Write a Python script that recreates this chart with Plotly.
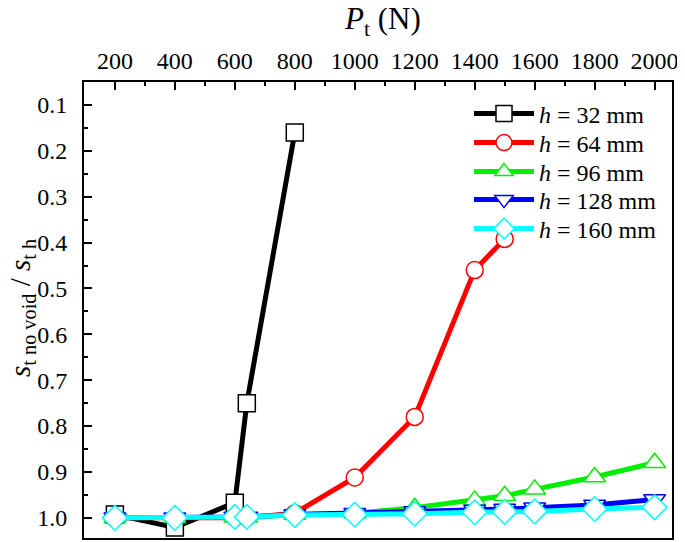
import plotly.graph_objects as go

x_all = [200, 400, 600, 640, 800, 1000, 1200, 1400, 1500, 1600, 1800, 2000]
h32 = [0.993, 1.021, 0.967, 0.75, 0.16]
h64 = [1.0, 1.0, 1.0, 1.0, 0.99, 0.912, 0.78, 0.46, 0.392]
h96 = [1.0, 1.0, 0.999, 0.999, 0.993, 0.99, 0.978, 0.962, 0.952, 0.938, 0.911, 0.88]
h128 = [1.0, 1.0, 0.998, 0.998, 0.993, 0.99, 0.986, 0.983, 0.981, 0.978, 0.972, 0.96]
h160 = [1.0, 1.0, 0.998, 0.998, 0.994, 0.993, 0.991, 0.988, 0.987, 0.986, 0.981, 0.977]

x_ticks = [200, 400, 600, 800, 1000, 1200, 1400, 1600, 1800, 2000]
y_ticks = [0.1, 0.2, 0.3, 0.4, 0.5, 0.6, 0.7, 0.8, 0.9, 1.0]
y_tick_text = ["0.1", "0.2", "0.3", "0.4", "0.5", "0.6", "0.7", "0.8", "0.9", "1.0"]

names = ["<i>h</i> = 32 mm", "<i>h</i> = 64 mm", "<i>h</i> = 96 mm",
         "<i>h</i> = 128 mm", "<i>h</i> = 160 mm"]
colors = ["#000000", "#ff0000", "#00ee00", "#0000ff", "#00ffff"]
symbols = ["square", "circle", "triangle-up", "triangle-down", "diamond"]
msizes = [17, 17, 19, 19, 19]
series = [h32, h64, h96, h128, h160]

font_family = "Liberation Serif"
# the page body has an 8px margin; figure is sized so the plot lands where the reference has it
OFF = 8
W, H = 685 - OFF, 542 - OFF
ML, MT = 84 - OFF, 82 - OFF
MR = W - (672 - OFF)
MB = H - (538 - OFF)
plot_w = W - ML - MR
plot_h = H - MT - MB


def px2paper(px, py):
    # px, py in screen (reference) pixels
    return (px - OFF - ML) / plot_w, (H - MB - (py - OFF)) / plot_h


legend_rows = [114, 143, 172, 200, 229]
legend_ids = ["legend", "legend2", "legend3", "legend4", "legend5"]

fig = go.Figure()
for name, col, sym, ms, ys, lid in zip(names, colors, symbols, msizes, series, legend_ids):
    fig.add_trace(go.Scatter(
        x=x_all[:len(ys)], y=ys, name=name, mode="lines+markers",
        line=dict(color=col, width=5),
        marker=dict(symbol=sym, size=ms, color="white",
                    line=dict(color=col, width=1.5)),
        legend=lid,
    ))

legend_layout = {}
for lid, row in zip(legend_ids, legend_rows):
    lx, ly = px2paper(469, row)
    legend_layout[lid] = dict(x=lx, y=ly, xanchor="left", yanchor="middle",
                              bgcolor="rgba(0,0,0,0)", font=dict(size=24, family=font_family),
                              itemwidth=60, tracegroupgap=0)

fig.update_layout(
    width=W, height=H,
    margin=dict(l=ML, r=MR, t=MT, b=MB),
    plot_bgcolor="white", paper_bgcolor="white",
    font=dict(family=font_family, size=24, color="black"),
    showlegend=True,
    **legend_layout,
    xaxis=dict(side="top", range=[97, 2058], tickmode="array", tickvals=x_ticks,
               ticks="inside", ticklen=8, tickwidth=1.5, tickcolor="black",
               minor=dict(dtick=100, tick0=0, ticks="inside", ticklen=4, tickwidth=1.5, tickcolor="black"),
               showline=True, linewidth=2, linecolor="black", mirror=True,
               showgrid=False, zeroline=False, automargin=False,
               ticklabelstandoff=1,
               tickfont=dict(size=24, family=font_family)),
    yaxis=dict(range=[1.044, 0.05], tickmode="array", tickvals=y_ticks, ticktext=y_tick_text,
               ticks="inside", ticklen=8, tickwidth=1.5, tickcolor="black",
               minor=dict(dtick=0.05, tick0=0, ticks="inside", ticklen=4, tickwidth=1.5, tickcolor="black"),
               showline=True, linewidth=2, linecolor="black", mirror=True,
               showgrid=False, zeroline=False, automargin=False,
               ticklabelstandoff=10,
               tickfont=dict(size=24, family=font_family)),
)

tx, ty = px2paper(382, 21)
ax, ay = px2paper(22, 308)
fig.add_annotation(text="<i>P</i><sub>t</sub> (N)", xref="paper", yref="paper", x=tx, y=ty,
                   xanchor="center", yanchor="middle",
                   showarrow=False, font=dict(size=31, family=font_family))
fig.add_annotation(text="<i>s</i><sub>t no void</sub> / <i>s</i><sub>t h</sub>", xref="paper", yref="paper",
                   x=ax, y=ay, xanchor="center", yanchor="middle", textangle=-90,
                   showarrow=False, font=dict(size=29, family=font_family))

fig.write_html("out.html")
